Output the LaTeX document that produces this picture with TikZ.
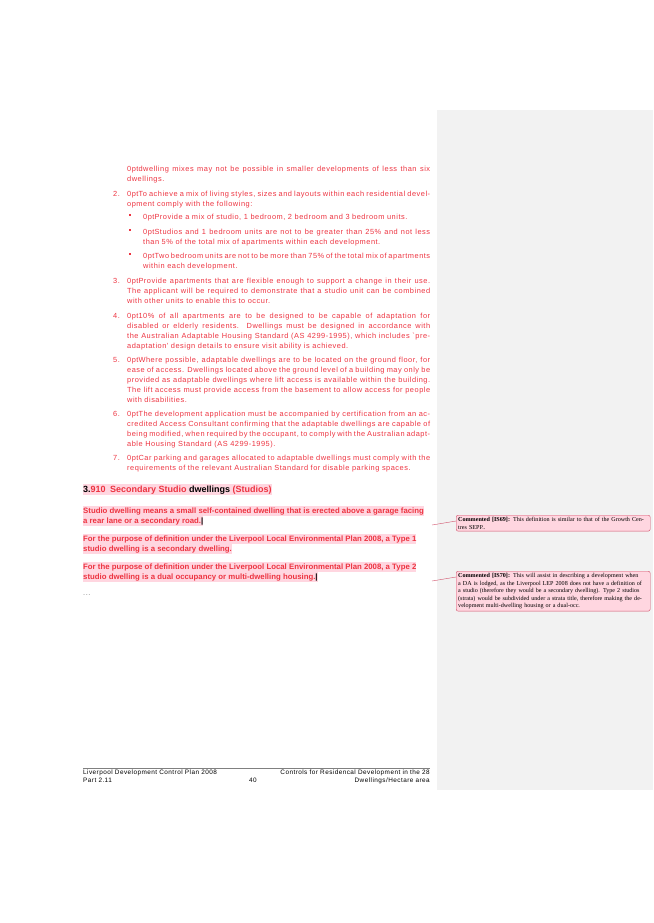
\documentclass[tikz,border=0pt]{standalone}
\usepackage{fontspec}
\setmainfont{Liberation Sans}
\newfontfamily\cmtfont{Liberation Serif}
\newfontfamily\spaced[LetterSpace=7]{Liberation Sans}
\usetikzlibrary{positioning}
\definecolor{mred}{rgb}{0.93, 0.2, 0.25}
\definecolor{mpink}{rgb}{1.0, 0.84, 0.88}
\definecolor{mgray}{rgb}{0.95, 0.95, 0.95}
\definecolor{mborder}{rgb}{0.82, 0.32, 0.42}

\tikzset{
  body/.style={anchor=north west, inner sep=0pt, text width=#1, align=justify,
    font=\spaced\fontsize{7.4}{10}\selectfont\hyphenpenalty=10000, text=mred},
  body/.default=303pt,
  num/.style={anchor=north west, inner sep=0pt, font=\spaced\fontsize{7.4}{10}\selectfont, text=mred},
  hl/.style={anchor=base west, inner xsep=0pt, inner ysep=1.5pt, fill=mpink,
    font=\fontsize{7.8}{10}\selectfont\bfseries, text=mred},
  cmt/.style={anchor=north west, draw=mborder, fill=mpink, rounded corners=2pt,
    text width=190pt, inner sep=2pt, font=\cmtfont\fontsize{6.1}{7.6}\selectfont, align=left},
  foot/.style={inner sep=0pt, font=\spaced\fontsize{6.4}{8}\selectfont}
}
\newcommand{\sqmark}{\raisebox{1.5pt}{\rule{1.6pt}{1.6pt}}}

\begin{document}
\begin{tikzpicture}[x=1pt, y=-1pt]
    \useasboundingbox (0, 0) rectangle (653, 923);
    \fill [mgray] (437, 110) rectangle (653, 790);

    % list items
    \node [body] (p0) at (127, 166) {dwelling mixes may not be possible in smaller developments of less than six dwellings.};
    \node [num] (n2) at (113, 191) {2.};
    \node [body] (p2) at (127, 191) {To achieve a mix of living styles, sizes and layouts within each residential development comply with the following:};
    \node [num] (b1) at (129, 214) {\sqmark};
    \node [body=287pt] (q1) at (143, 214) {Provide a mix of studio, 1 bedroom, 2 bedroom and 3 bedroom units.};
    \node [num] (b2) at (129, 229) {\sqmark};
    \node [body=287pt] (q2) at (143, 229) {Studios and 1 bedroom units are not to be greater than 25\% and not less than 5\% of the total mix of apartments within each development.};
    \node [num] (b3) at (129, 253) {\sqmark};
    \node [body=287pt] (q3) at (143, 253) {Two bedroom units are not to be more than 75\% of the total mix of apartments within each development.};
    \node [num] (n3) at (113, 278) {3.};
    \node [body] (p3) at (127, 278) {Provide apartments that are flexible enough to support a change in their use. The applicant will be required to demonstrate that a studio unit can be combined with other units to enable this to occur.};
    \node [num] (n4) at (113, 313) {4.};
    \node [body] (p4) at (127, 313) {10\% of all apartments are to be designed to be capable of adaptation for disabled or elderly residents. Dwellings must be designed in accordance with the Australian Adaptable Housing Standard (AS 4299-1995), which includes `pre-\linebreak adaptation' design details to ensure visit ability is achieved.};
    \node [num] (n5) at (113, 357) {5.};
    \node [body] (p5) at (127, 357) {Where possible, adaptable dwellings are to be located on the ground floor, for ease of access. Dwellings located above the ground level of a building may only be provided as adaptable dwellings where lift access is available within the building. The lift access must provide access from the basement to allow access for people with disabilities.};
    \node [num] (n6) at (113, 411) {6.};
    \node [body] (p6) at (127, 411) {The development application must be accompanied by certification from an accredited Access Consultant confirming that the adaptable dwellings are capable of being modified, when required by the occupant, to comply with the Australian adaptable Housing Standard (AS 4299-1995).};
    \node [num] (n7) at (113, 455) {7.};
    \node [body] (p7) at (127, 455) {Car parking and garages allocated to adaptable dwellings must comply with the requirements of the relevant Australian Standard for disable parking spaces.};

    % heading
    \node [hl, font=\fontsize{9}{11}\selectfont\bfseries] (head) at (83, 492)
      {\textcolor{black}{3.}910\enspace Secondary Studio \textcolor{black}{dwellings} (Studios)};

    % definitions
    \node [hl] (d1) at (83, 513) {Studio dwelling means a small self-contained dwelling that is erected above a garage facing};
    \node [hl] (d2) at (83, 523) {a rear lane or a secondary road.\textcolor{black}{|}};
    \node [hl] (d3) at (83, 541) {For the purpose of definition under the Liverpool Local Environmental Plan 2008, a Type 1};
    \node [hl] (d4) at (83, 551) {studio dwelling is a secondary dwelling.};
    \node [hl] (d5) at (83, 569) {For the purpose of definition under the Liverpool Local Environmental Plan 2008, a Type 2};
    \node [hl] (d6) at (83, 579) {studio dwelling is a dual occupancy or multi-dwelling housing.\textcolor{black}{|}};
    \node [num, text=gray] (dots) at (83, 594) {...};

    % comments
    \node [cmt] (c69) at (456, 515) {\textbf{Commented [IS69]:} This definition is similar to that of the Growth Centres SEPP..};
    \node [cmt] (c70) at (456, 571) {\textbf{Commented [IS70]:} This will assist in describing a development when a DA is lodged, as the Liverpool LEP 2008 does not have a definition of a studio (therefore they would be a secondary dwelling). Type 2 studios (strata) would be subdivided under a strata title, therefore making the development multi-dwelling housing or a dual-occ.};
    \coordinate (a69) at (432, 525);
    \coordinate (a70) at (432, 581);
    \draw [mborder, thin] (a69) -- (c69.west |- 0, 521);
    \draw [mborder, thin] (a70) -- (c70.west |- 0, 577);

    % footer
    \draw [gray, very thin] (83, 768) -- (430, 768);
    \node [foot, anchor=north west, align=left] (fl) at (83, 770) {Liverpool Development Control Plan 2008\\Part 2.11};
    \node [foot, anchor=north] (fc) at (253, 778) {40};
    \node [foot, anchor=north east, align=right] (fr) at (430, 770) {Controls for Residencal Development in the 28\\Dwellings/Hectare area};
\end{tikzpicture}
\end{document}
